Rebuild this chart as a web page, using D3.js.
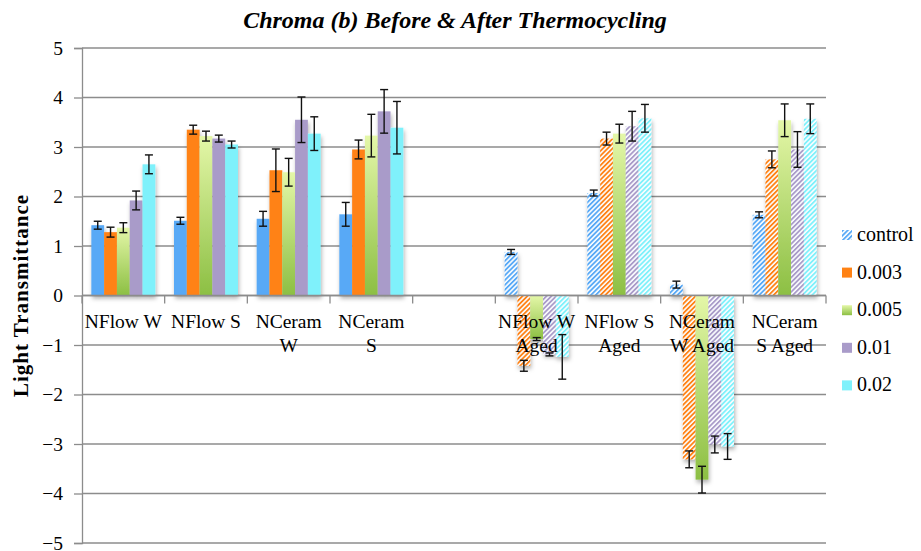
<!DOCTYPE html>
<html>
<head>
<meta charset="utf-8">
<script src="https://cdn.jsdelivr.net/npm/d3@7"></script>
<style>
  body { margin: 0; background: #fff; }
  svg { display: block; }
  svg text { font-family: "Liberation Serif", "DejaVu Serif", "Noto Serif", serif; }
</style>
</head>
<body>
<svg id="chart" width="921" height="551"></svg>
<script>
// Category labels (line breaks mark where the axis label wraps)
const categories = ["NFlow W", "NFlow S", "NCeram\nW", "NCeram\nS", "",
  "NFlow W\nAged", "NFlow S\nAged", "NCeram\nW Aged", "NCeram\nS Aged"];
const agedGroup = [false, false, false, false, false, true, true, true, true];

const seriesNames = ["control", "0.003", "0.005", "0.01", "0.02"];

const control    = [1.42, 1.51, 1.55, 1.64, null, 0.88, 2.07, 0.22, 1.63];
const controlErr = [0.08, 0.07, 0.15, 0.24, null, 0.05, 0.06, 0.07, 0.06];
const s003       = [1.28, 3.35, 2.53, 2.95, null, -1.42, 3.17, -3.31, 2.75];
const s003Err    = [0.10, 0.09, 0.43, 0.19, null, 0.11, 0.13, 0.17, 0.17];
const s005       = [1.37, 3.22, 2.49, 3.23, null, -0.88, 3.27, -3.72, 3.54];
const s005Err    = [0.10, 0.10, 0.28, 0.43, null, 0.03, 0.19, 0.27, 0.33];
const s01        = [1.92, 3.17, 3.55, 3.72, null, -1.19, 3.42, -3.01, 2.95];
const s01Err     = [0.19, 0.07, 0.46, 0.44, null, 0.03, 0.30, 0.17, 0.36];
const s02        = [2.65, 3.05, 3.27, 3.39, null, -1.24, 3.58, -3.05, 3.57];
const s02Err     = [0.19, 0.07, 0.34, 0.53, null, 0.45, 0.28, 0.26, 0.30];

const yTicks = [5, 4, 3, 2, 1, 0, -1, -2, -3, -4, -5];

const seriesValues = [control, s003, s005, s01, s02];
const seriesErrors = [controlErr, s003Err, s005Err, s01Err, s02Err];

// Styling
const colors = ["#58a9f6", "#ff8214", null, "#a99bc9", "#7ff1fb"];

const svg = d3.select("#chart");
const margin = { left: 82, right: 95, top: 48, bottom: 8 };
const W = 921, H = 551;
const x0 = margin.left, x1 = W - margin.right;
const y0 = margin.top, y1 = H - margin.bottom;

const x = d3.scaleBand().domain(d3.range(categories.length)).range([x0, x1]).padding(0);
const xs = d3.scaleBand().domain(d3.range(seriesNames.length))
  .range([0, x.bandwidth()]).paddingInner(0).paddingOuter(0.73);
const y = d3.scaleLinear().domain([-5, 5]).range([y1, y0]);

const defs = svg.append("defs");

// Green gradient used by the 0.005 series
const grad = defs.append("linearGradient").attr("id", "greenGrad")
  .attr("x1", 0).attr("y1", 0).attr("x2", 0).attr("y2", 1);
grad.append("stop").attr("offset", "0%").attr("stop-color", "#e4f7a8");
grad.append("stop").attr("offset", "100%").attr("stop-color", "#8cbf43");

// Diagonal hatch patterns for aged samples
colors.forEach((c, i) => {
  if (!c) return;
  const p = defs.append("pattern").attr("id", "hatch" + i)
    .attr("patternUnits", "userSpaceOnUse").attr("width", 3.4).attr("height", 3.4)
    .attr("patternTransform", "rotate(45)");
  p.append("rect").attr("width", 3.4).attr("height", 3.4).attr("fill", "#fbfdff");
  p.append("rect").attr("width", 1.8).attr("height", 3.4).attr("fill", c);
});

// Soft shadow under the bars
const f = defs.append("filter").attr("id", "shadow")
  .attr("x", "-30%").attr("y", "-10%").attr("width", "160%").attr("height", "130%");
f.append("feDropShadow").attr("dx", 1).attr("dy", 3).attr("stdDeviation", 2)
  .attr("flood-color", "#000").attr("flood-opacity", 0.3);

function fillFor(si, ci) {
  if (si === 2) return "url(#greenGrad)";
  return agedGroup[ci] ? `url(#hatch${si})` : colors[si];
}

// Horizontal gridlines
svg.append("g").selectAll("line").data(yTicks).join("line")
  .attr("x1", x0).attr("x2", x1)
  .attr("y1", d => y(d)).attr("y2", d => y(d))
  .attr("stroke", "#8c8c8c").attr("stroke-width", 1.3);

// Y axis
const yAxis = svg.append("g").attr("transform", `translate(${x0},0)`)
  .call(d3.axisLeft(y).tickValues(yTicks).tickSize(8).tickPadding(11).tickFormat(d3.format("d")));
yAxis.attr("font-family", null);
yAxis.select(".domain").attr("stroke", "#8c8c8c").attr("stroke-width", 1.3);
yAxis.selectAll(".tick line").attr("stroke", "#8c8c8c").attr("stroke-width", 1.3);
yAxis.selectAll(".tick text").style("font-size", "19.5px").attr("fill", "#000");

// Bars
const barData = [];
categories.forEach((c, ci) => {
  seriesNames.forEach((s, si) => {
    const v = seriesValues[si][ci];
    if (v === null) return;
    barData.push({ ci, si, v, e: seriesErrors[si][ci] });
  });
});

svg.append("g").attr("filter", "url(#shadow)").selectAll("rect").data(barData).join("rect")
  .attr("x", d => x(d.ci) + xs(d.si))
  .attr("width", xs.bandwidth())
  .attr("y", d => y(Math.max(0, d.v)))
  .attr("height", d => Math.abs(y(d.v) - y(0)))
  .attr("fill", d => fillFor(d.si, d.ci));

// Zero line with category ticks
svg.append("line").attr("x1", x0).attr("x2", x1).attr("y1", y(0)).attr("y2", y(0))
  .attr("stroke", "#8c8c8c").attr("stroke-width", 1.3);
svg.append("g").selectAll("line").data(d3.range(categories.length + 1)).join("line")
  .attr("x1", i => x0 + i * x.bandwidth()).attr("x2", i => x0 + i * x.bandwidth())
  .attr("y1", y(0)).attr("y2", y(0) + 8)
  .attr("stroke", "#8c8c8c").attr("stroke-width", 1.3);

// Error bars
const eb = svg.append("g").attr("stroke", "#111").attr("stroke-width", 1.4);
barData.forEach(d => {
  const cx = x(d.ci) + xs(d.si) + xs.bandwidth() / 2;
  const top = y(d.v + d.e), bot = y(d.v - d.e);
  eb.append("line").attr("x1", cx).attr("x2", cx).attr("y1", top).attr("y2", bot);
  eb.append("line").attr("x1", cx - 4).attr("x2", cx + 4).attr("y1", top).attr("y2", top);
  eb.append("line").attr("x1", cx - 4).attr("x2", cx + 4).attr("y1", bot).attr("y2", bot);
});

// Category labels
const lab = svg.append("g").attr("text-anchor", "middle").attr("fill", "#000");
categories.forEach((c, ci) => {
  const t = lab.append("text").attr("x", x(ci) + x.bandwidth() / 2).attr("y", y(0) + 32)
    .style("font-size", "19.5px");
  c.split("\n").forEach((line, li) => {
    t.append("tspan").attr("x", x(ci) + x.bandwidth() / 2).attr("dy", li === 0 ? 0 : 24).text(line);
  });
});

// Title
svg.append("text").attr("x", 455).attr("y", 28).attr("text-anchor", "middle")
  .style("font-size", "24px").style("font-weight", "bold")
  .style("font-style", "italic").text("Chroma (b) Before & After Thermocycling");

// Y axis title
svg.append("text").attr("transform", `translate(28,${y(0)}) rotate(-90)`)
  .attr("text-anchor", "middle").style("font-size", "21px")
  .style("font-weight", "bold").attr("letter-spacing", 1).text("Light Transmittance");

// Legend
const legend = svg.append("g").attr("transform", "translate(842,230)");
seriesNames.forEach((s, si) => {
  const g = legend.append("g").attr("transform", `translate(0,${si * 37.6})`);
  g.append("rect").attr("width", 10).attr("height", 10)
    .attr("fill", si === 0 ? "url(#hatch0)" : (si === 2 ? "url(#greenGrad)" : colors[si]));
  g.append("text").attr("x", 15).attr("y", 11)
    .style("font-size", "20px").attr("fill", "#000").text(s);
});
</script>
</body>
</html>
